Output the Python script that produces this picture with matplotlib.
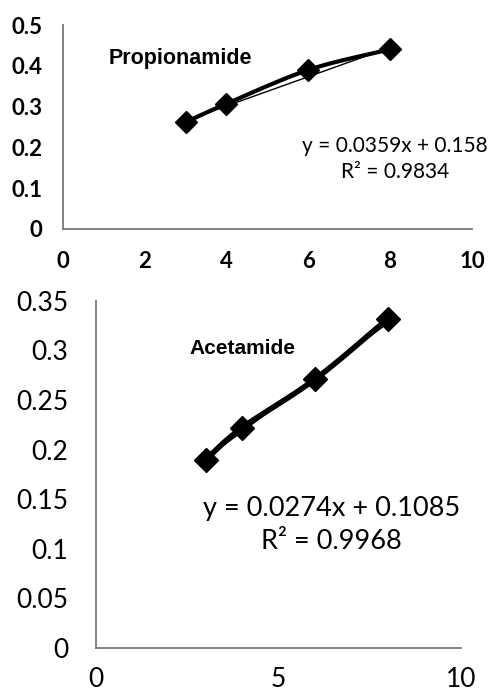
import numpy as np
import matplotlib
matplotlib.use("Agg")
import matplotlib.pyplot as plt

# Propionamide panel
prop_x = [3, 4, 6, 8]
prop_y = [0.262, 0.307, 0.390, 0.441]
prop_slope, prop_icept = 0.0359, 0.158
prop_eq = "y = 0.0359x + 0.158\nR² = 0.9834"

# Acetamide panel
acet_x = [3, 4, 6, 8]
acet_y = [0.190, 0.222, 0.271, 0.332]
acet_slope, acet_icept = 0.0274, 0.1085
acet_eq = "y = 0.0274x + 0.1085\nR² = 0.9968"


def smooth(xs, ys, n=30):
    # Catmull-Rom style curve through the points, like Excel's smoothed line
    xs = np.asarray(xs, float)
    ys = np.asarray(ys, float)
    px = np.concatenate([[2 * xs[0] - xs[1]], xs, [2 * xs[-1] - xs[-2]]])
    py = np.concatenate([[2 * ys[0] - ys[1]], ys, [2 * ys[-1] - ys[-2]]])
    outx, outy = [], []
    t = np.linspace(0, 1, n)
    for i in range(1, len(px) - 2):
        for arr, out in ((px, outx), (py, outy)):
            p0, p1, p2, p3 = arr[i - 1], arr[i], arr[i + 1], arr[i + 2]
            out.extend(0.5 * ((2 * p1) + (-p0 + p2) * t
                              + (2 * p0 - 5 * p1 + 4 * p2 - p3) * t ** 2
                              + (-p0 + 3 * p1 - 3 * p2 + p3) * t ** 3))
    return np.array(outx), np.array(outy)


fig = plt.figure(figsize=(4.91, 6.98), dpi=100)

# top panel
ax1 = fig.add_axes([0.128, 0.672, 0.833, 0.292])
sx, sy = smooth(prop_x, prop_y)
ax1.plot(sx, sy, color="black", lw=3)
tx = np.array([prop_x[0], prop_x[-1]])
ax1.plot(tx, prop_slope * tx + prop_icept, color="black", lw=1)
ax1.plot(prop_x, prop_y, ls="none", marker="D", ms=11, color="black")
ax1.set_xlim(0, 10)
ax1.set_ylim(0, 0.5)
ax1.set_xticks([0, 2, 4, 6, 8, 10])
ax1.set_yticks([0, 0.1, 0.2, 0.3, 0.4, 0.5])
ax1.set_yticklabels(["0", "0.1", "0.2", "0.3", "0.4", "0.5"])
ax1.text(1.12, 0.417, "Propionamide", fontsize=15.5, fontweight="bold",
         family="Liberation Sans", va="center")
ax1.text(8.12, 0.172, prop_eq, fontsize=15, ha="center", va="center",
         family="Lato", linespacing=1.35)
for lab in ax1.get_xticklabels() + ax1.get_yticklabels():
    lab.set_fontsize(16)
    lab.set_family("Lato")
    lab.set_fontweight("bold")
ax1.tick_params(length=0)
ax1.tick_params(axis="x", pad=16)
ax1.tick_params(axis="y", pad=15)

# bottom panel
ax2 = fig.add_axes([0.1955, 0.0716, 0.7435, 0.4974])
sx, sy = smooth(acet_x, acet_y)
ax2.plot(sx, sy, color="black", lw=4)
tx = np.array([acet_x[0], acet_x[-1]])
ax2.plot(tx, acet_slope * tx + acet_icept, color="black", lw=1)
ax2.plot(acet_x, acet_y, ls="none", marker="D", ms=12, color="black")
ax2.set_xlim(0, 10)
ax2.set_ylim(0, 0.35)
ax2.set_xticks([0, 5, 10])
ax2.set_yticks([0, 0.05, 0.1, 0.15, 0.2, 0.25, 0.3, 0.35])
ax2.set_yticklabels(["0", "0.05", "0.1", "0.15", "0.2", "0.25", "0.3", "0.35"])
ax2.text(2.55, 0.302, "Acetamide", fontsize=15, fontweight="bold",
         family="Liberation Sans", va="center")
ax2.text(6.44, 0.124, acet_eq, fontsize=19.5, ha="center", va="center",
         family="Lato", linespacing=1.4)
for lab in ax2.get_xticklabels() + ax2.get_yticklabels():
    lab.set_fontsize(19)
    lab.set_family("Lato")
ax2.tick_params(length=0)
ax2.tick_params(axis="x", pad=14)
ax2.tick_params(axis="y", pad=20)

for ax in (ax1, ax2):
    ax.spines["top"].set_visible(False)
    ax.spines["right"].set_visible(False)
    for s in ("left", "bottom"):
        ax.spines[s].set_color("#777777")
        ax.spines[s].set_linewidth(1.3)

fig.savefig("out.png", dpi=100)
